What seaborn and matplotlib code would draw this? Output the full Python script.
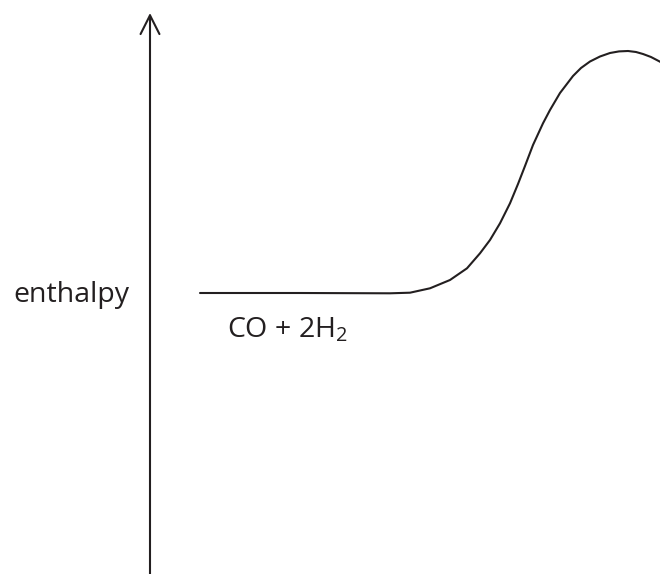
"""Diagrama de entalpía: CO + 2H2 (esquema)"""

import matplotlib
matplotlib.use("Agg")
import matplotlib.pyplot as plt
import seaborn as sns
import pandas as pd

sns.set_theme(style="white")
plt.rcParams["font.family"] = ["Open Sans", "DejaVu Sans"]
plt.rcParams["mathtext.fontset"] = "custom"
plt.rcParams["mathtext.rm"] = "Open Sans"
plt.rcParams["mathtext.it"] = "Open Sans"

INK = "#231F20"

# coordenada de reacción (px) y entalpía (px desde abajo)
coord = [200, 300, 390, 410, 430, 450, 467, 480, 490, 500, 510, 518, 525,
         533, 543, 550, 560, 573, 581, 590, 600, 610, 619, 628, 636, 643,
         651, 660, 666]
entalpia = [281, 281, 280.7, 281.3, 285.7, 294, 305.7, 320.7, 334, 350.7,
            370.7, 390, 408, 429, 450.7, 464, 481, 498, 506, 512.5, 517.5,
            521, 522.6, 523, 522, 520, 517, 512.3, 508]

etiqueta_eje = "enthalpy"
etiqueta_reactivos = r"CO + 2H$_2$"

df = pd.DataFrame({"coord": coord, "entalpia": entalpia})

fig = plt.figure(figsize=(6.6, 5.74), dpi=100)
ax = fig.add_axes([0, 0, 1, 1])

sns.lineplot(data=df, x="coord", y="entalpia", color=INK, linewidth=1.5,
             sort=False, estimator=None, ax=ax)

# eje vertical con flecha abierta
ax.annotate("", xy=(150, 561), xytext=(150, 0),
            arrowprops=dict(arrowstyle="->,head_length=13.5,head_width=6.8",
                            mutation_scale=1, color=INK, lw=1.5,
                            shrinkA=0, shrinkB=0))

ax.text(13, 272.3, etiqueta_eje, fontsize=20.5, color=INK,
        ha="left", va="baseline")
ax.text(227, 236.7, etiqueta_reactivos, fontsize=20.5, color=INK,
        ha="left", va="baseline")

ax.set_xlim(0, 660)
ax.set_ylim(0, 574)
ax.axis("off")

fig.savefig("out.png", dpi=100)
